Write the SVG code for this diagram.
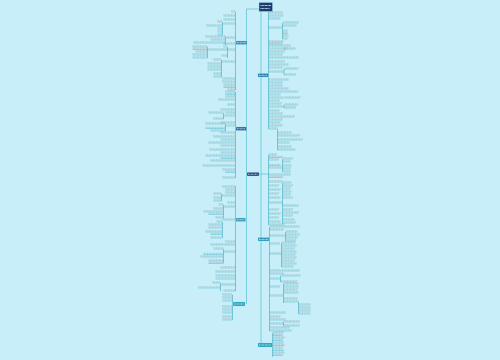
<svg xmlns="http://www.w3.org/2000/svg" xmlns:xlink="http://www.w3.org/1999/xlink" width="500" height="360" viewBox="0 0 500 360">
<style>
.ul{fill:none;stroke:#4fb6cb;stroke-width:0.5}
.tx{fill:none;stroke:#9db2b8;stroke-width:0.7;stroke-dasharray:1 0.5}
.tr{fill:none;stroke:#6fc8da;stroke-width:0.9}
.st{fill:none;stroke:#3aa8bf;stroke-width:0.6}
.bx{stroke:#9fe0ee;stroke-width:0.4}
.bt{fill:none;stroke:#ffffff;stroke-width:0.8;stroke-dasharray:1 0.4}
</style>
<defs>
<path id="pR1" d="M268.5 13h14M268.5 16h15M268.5 19h12M268.5 28h14M268.5 42h15M268.5 44h14M268.5 46h22M268.5 49h18M268.5 52h16M268.5 55h14M268.5 58h18M268.5 62h16M268.5 65h20M268.5 68h14M268.5 72h15M268.5 80h20M268.5 83h14M268.5 86h14M268.5 89h20M268.5 92h15M268.5 95h12M268.5 98h15M268.5 101h11M268.5 104h13M268.5 107h15M268.5 111h11M268.5 114h14M268.5 117h26M268.5 120h14M268.5 123h12M268.5 126h14M268.5 129h9M282.5 23h16M282.5 26h14M282.5 31h5M282.5 33.5h5M282.5 36h6M282.5 39h5M283.5 49h12M286.5 58h12M284 69h14M284 75h12M284 92h14M284 98h16M284 105h14M284 108h12M277.5 133h14M277.5 136h22M277.5 140h25M277.5 143h12M277.5 147h14M277.5 150h18"/>
<path id="pC" d="M268.5 155h8M268.5 157.5h14M268.5 160h10M268.5 165.5h12M268.5 168h14M268.5 175h22M268.5 177.5h14M268.5 182h14M268.5 186h10M268.5 190h12M268.5 194h10M268.5 198h12M268.5 203h14M268.5 210h10M268.5 214h12M268.5 218h10M268.5 222h12M268.5 225h16M282.5 159h10M282.5 162h8M282.5 166h9M282.5 169h8M282.5 172h8M282.5 183h9M282.5 186h10M282.5 189h8M282.5 192h9M282.5 195h8M282.5 198h10M282.5 206h16M282.5 210h10M282.5 213h16M282.5 216h10M282.5 220h12M282.5 223h13"/>
<path id="pR3" d="M269.5 227h30M269.5 230h14M269.5 236h16M269.5 244h10M269.5 254h12M269.5 271h30M269.5 274h14M269.5 279h11M269.5 287h10M269.5 296h14M269.5 313h16M269.5 317h11M269.5 320h16M269.5 324h14M269.5 328h20M269.5 331h22M285.5 232h12M285.5 235h14M285.5 238h12M285.5 241h10M281.5 243h14M281.5 246h15M281.5 249h13M281.5 252h15M281.5 255h14M281.5 258h15M281.5 261h13M281.5 264h15M281.5 267h12M280.5 276h20M280.5 282h16M283.5 284h15M283.5 287h15M283.5 290h14M283.5 293h15M283.5 299h14M283.5 302h15M298.5 305h12M298.5 308h12M298.5 311h12M298.5 314h12M283.5 322h16M283.5 326h16"/>
<path id="pR4" d="M272.5 333h11M272.5 335.5h10M272.5 338h12M272.5 340.5h10M272.5 343h11M272.5 345.5h12M272.5 348h10M272.5 350.5h11M272.5 353h12M272.5 355.5h10"/>
<path id="pL1" d="M235.5 12h-4M235.5 16h-12M235.5 20h-12M235.5 24h-13M235.5 38h-10M235.5 44h-12M235.5 50h-8M235.5 62h-14M235.5 79h-13M235.5 82h-13M235.5 85h-12M235.5 87.5h-12M235.5 90h-8M222.5 22h-5M222.5 26h-16M222.5 29h-5M222.5 32h-5M222.5 35h-5M225.5 37h-20M225.5 40h-15M225.5 43h-32M227.5 47h-4M227.5 50h-20M227.5 56h-6M207.5 47h-15M207.5 49.5h-15M207.5 52h-12M207.5 55h-15M207.5 58h-15M221.5 60h-8M221.5 64h-14M221.5 67h-14M221.5 70h-14M221.5 74h-8M221.5 77h-8"/>
<path id="pL2" d="M235.5 92h-10M235.5 94.5h-10M235.5 97h-10M235.5 100h-17M235.5 105h-8M235.5 110h-15M235.5 113h-10M235.5 116h-12M235.5 123h-15M235.5 126h-10M235.5 133h-15M235.5 137h-22M235.5 140h-15M235.5 143h-27M235.5 146h-15M235.5 150h-26M235.5 153h-15M235.5 156h-30M235.5 158.5h-15M235.5 161h-25M235.5 166h-33M235.5 170h-13M235.5 172.5h-10M235.5 178h-13M223.5 113h-15M223.5 119h-10M225.5 124h-20M225.5 128.5h-20M225.5 131h-15"/>
<path id="pL3" d="M235.5 187h-13M235.5 190h-10M235.5 193h-10M235.5 196h-14M235.5 203h-8M235.5 207h-12M235.5 220h-13M235.5 242h-10M235.5 245h-25M235.5 252h-12M235.5 268h-15M235.5 272h-20M235.5 276h-20M235.5 279h-20M235.5 285h-15M235.5 291h-12M221.5 194h-8M221.5 198h-8M221.5 201h-8M223.5 205h-5M223.5 209h-10M223.5 212h-20M223.5 214.5h-15M223.5 218h-8M222.5 222h-6M222.5 225h-14M222.5 228h-14M222.5 232h-17M222.5 234.5h-12M222.5 238h-12M223.5 249h-10M223.5 254.5h-20M223.5 257h-23M223.5 261h-15M223.5 263.5h-15M220.5 283h-8M220.5 288h-22"/>
<path id="pL4" d="M232.5 295h-10M232.5 298h-10M232.5 301h-10M232.5 307h-10M232.5 310h-10M232.5 313h-10M232.5 317h-10M232.5 320h-10"/>
</defs>
<rect x="0" y="0" width="500" height="360" fill="#c8eff9"/>
<g id="connectors">
<path class="tr" d="M261 11.5V343M259 9H246.5V304M245 219.5H246.5M259 174H268.5"/>
<path class="st" d="M268.5 12V129M282.5 23V39M284 69V75M284 105V108M277.5 129V150M268.5 155V225M282.5 159V172M282.5 183V224M269.5 227V331M285.5 232V241M281.5 243V267M280.5 276V282M283.5 284V303M298.5 302V314M283.5 322V326M272.5 333V357M235.5 12V90M222.5 22V35M225.5 37V45M227.5 47V58M207.5 47V58M221.5 60V77M235.5 92V178M223.5 113V119M225.5 124V131M235.5 186V291M221.5 194V201M223.5 205V218M222.5 222V238M223.5 249V263M220.5 283V291M232.5 295V320"/>
</g>
<g id="leaves-r1"><use href="#pR1" class="ul"/><use href="#pR1" class="tx" transform="translate(0.5,-1.2)"/></g>
<g id="leaves-c"><use href="#pC" class="ul"/><use href="#pC" class="tx" transform="translate(0.5,-1.2)"/></g>
<g id="leaves-r3"><use href="#pR3" class="ul"/><use href="#pR3" class="tx" transform="translate(0.5,-1.2)"/></g>
<g id="leaves-r4"><use href="#pR4" class="ul"/><use href="#pR4" class="tx" transform="translate(0.5,-1.2)"/></g>
<g id="leaves-l1"><use href="#pL1" class="ul"/><use href="#pL1" class="tx" transform="translate(-0.5,-1.2)"/></g>
<g id="leaves-l2"><use href="#pL2" class="ul"/><use href="#pL2" class="tx" transform="translate(-0.5,-1.2)"/></g>
<g id="leaves-l3"><use href="#pL3" class="ul"/><use href="#pL3" class="tx" transform="translate(-0.5,-1.2)"/></g>
<g id="leaves-l4"><use href="#pL4" class="ul"/><use href="#pL4" class="tx" transform="translate(-0.5,-1.2)"/></g>
<g id="root"><rect class="bx" x="259" y="2.5" width="13.5" height="9" fill="#1c3d72"/><path class="bt" d="M260.5 5.5h10.5M260.5 8.5h9"/></g>
<g id="node-r1"><rect class="bx" x="258" y="73.5" width="10.5" height="3.5" fill="#1f74a8"/><path class="bt" d="M259 75.3h8.5"/></g>
<g id="node-c"><rect class="bx" x="247" y="172.3" width="12" height="3.7" fill="#1b3570"/><path class="bt" d="M248 174.2h10"/></g>
<g id="node-r3"><rect class="bx" x="258" y="237.5" width="11.5" height="3.5" fill="#1f8fb3"/><path class="bt" d="M259 239.3h9.5"/></g>
<g id="node-r4"><rect class="bx" x="258" y="343" width="14.5" height="4" fill="#1a9bb8"/><path class="bt" d="M259 345h12.5"/></g>
<g id="node-l1"><rect class="bx" x="236" y="41" width="11" height="3.5" fill="#2380b3"/><path class="bt" d="M237 42.8h9"/></g>
<g id="node-l2"><rect class="bx" x="236" y="127" width="10.5" height="3.5" fill="#1d5c92"/><path class="bt" d="M237 128.8h8.5"/></g>
<g id="node-l3"><rect class="bx" x="236" y="218" width="9.5" height="3.5" fill="#2890b3"/><path class="bt" d="M237 219.8h7.5"/></g>
<g id="node-l4"><rect class="bx" x="233" y="302" width="12" height="4" fill="#1a9bb8"/><path class="bt" d="M234 304h10"/></g>
</svg>
